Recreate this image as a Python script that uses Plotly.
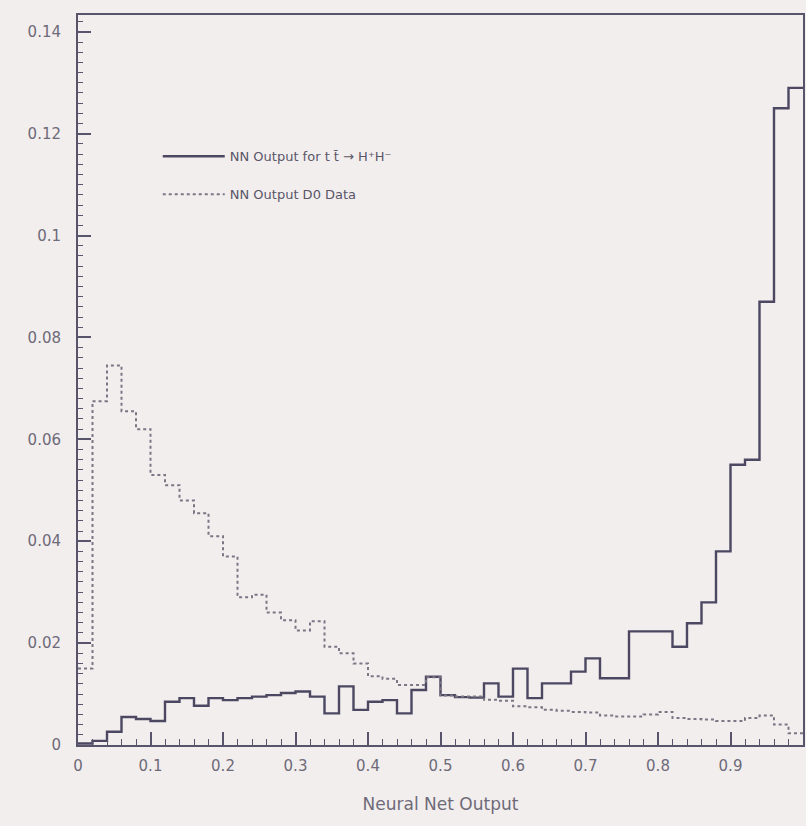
import plotly.graph_objects as go

# Bin edges: 50 bins of width 0.02 over the neural net output range
bin_lo = [round(i * 0.02, 2) for i in range(50)]
x_max = 1.0

# NN Output for t tbar -> H+H- (solid histogram)
signal = [0.0003, 0.0008, 0.0026, 0.0055, 0.0051, 0.0047, 0.0085, 0.0092, 0.0077, 0.0092,
          0.0088, 0.0092, 0.0095, 0.0098, 0.0102, 0.0105, 0.0095, 0.0062, 0.0115, 0.0069,
          0.0085, 0.0088, 0.0062, 0.0108, 0.0134, 0.0098, 0.0094, 0.0093, 0.0121, 0.0095,
          0.0150, 0.0092, 0.0121, 0.0121, 0.0144, 0.0170, 0.0131, 0.0131, 0.0223, 0.0223,
          0.0223, 0.0193, 0.0239, 0.0280, 0.0380, 0.0550, 0.0560, 0.0870, 0.1250, 0.1290]

# NN Output D0 Data (dotted histogram)
data_d0 = [0.0150, 0.0675, 0.0745, 0.0655, 0.0620, 0.0530, 0.0510, 0.0480, 0.0455, 0.0410,
           0.0370, 0.0290, 0.0295, 0.0260, 0.0245, 0.0225, 0.0243, 0.0193, 0.0180, 0.0160,
           0.0135, 0.0130, 0.0118, 0.0118, 0.0133, 0.0097, 0.0095, 0.0095, 0.0089, 0.0087,
           0.0076, 0.0074, 0.0069, 0.0067, 0.0065, 0.0064, 0.0058, 0.0056, 0.0056, 0.0060,
           0.0065, 0.0053, 0.0051, 0.0050, 0.0047, 0.0047, 0.0053, 0.0058, 0.0040, 0.0023]

x_ticks = [0, 0.1, 0.2, 0.3, 0.4, 0.5, 0.6, 0.7, 0.8, 0.9]
x_ticktext = ["0", "0.1", "0.2", "0.3", "0.4", "0.5", "0.6", "0.7", "0.8", "0.9"]
y_ticks = [0, 0.02, 0.04, 0.06, 0.08, 0.1, 0.12, 0.14]
y_ticktext = ["0", "0.02", "0.04", "0.06", "0.08", "0.1", "0.12", "0.14"]

label_signal = "NN Output for t t\u0304 \u2192 H\u207aH\u207b"
label_data = "NN Output D0 Data"

bg = "#f2eeee"
axis_col = "#58546c"
text_col = "#6e6a78"

xs = bin_lo + [x_max]
fig = go.Figure()
fig.add_trace(go.Scatter(
    x=xs, y=signal + [signal[-1]], mode="lines", line_shape="hv",
    line=dict(color="#4c4862", width=2.4), name=label_signal, legendgroup="a"))
fig.add_trace(go.Scatter(
    x=xs, y=data_d0 + [data_d0[-1]], mode="lines", line_shape="hv",
    line=dict(color="#7a7684", width=2, dash="dot"), name=label_data, legendgroup="b"))

fig.update_layout(
    width=806, height=826,
    margin=dict(l=78, r=1, t=15, b=81),
    paper_bgcolor=bg, plot_bgcolor=bg,
    font=dict(family="DejaVu Sans", color=text_col, size=14),
    showlegend=True,
    legend=dict(x=0.110, y=0.827, xanchor="left", yanchor="top",
                bgcolor="rgba(0,0,0,0)", font=dict(size=13, color="#5a5668"),
                traceorder="grouped", tracegroupgap=18, itemwidth=62),
    xaxis=dict(range=[0, 1.0], tickvals=x_ticks, ticktext=x_ticktext,
               showgrid=False, zeroline=False, showline=True, linecolor=axis_col,
               linewidth=2, mirror=True, ticks="inside", ticklen=13, tickwidth=1.5,
               tickcolor=axis_col, tickfont=dict(size=15, color=text_col),
               ticklabelstandoff=6,
               minor=dict(dtick=0.02, tick0=0, ticks="inside", ticklen=6,
                          tickcolor=axis_col, tickwidth=1.2),
               title=dict(text="Neural Net Output", font=dict(size=17, color=text_col),
                          standoff=24)),
    yaxis=dict(range=[0, 0.1433], tickvals=y_ticks, ticktext=y_ticktext,
               showgrid=False, zeroline=False, showline=True, linecolor=axis_col,
               linewidth=2, mirror=True, ticks="inside", ticklen=13, tickwidth=1.5,
               tickcolor=axis_col, tickfont=dict(size=15, color=text_col),
               ticklabelstandoff=12,
               minor=dict(dtick=0.002, tick0=0, ticks="inside", ticklen=5,
                          tickcolor=axis_col, tickwidth=1.2)),
)

fig.write_html("out.html")
